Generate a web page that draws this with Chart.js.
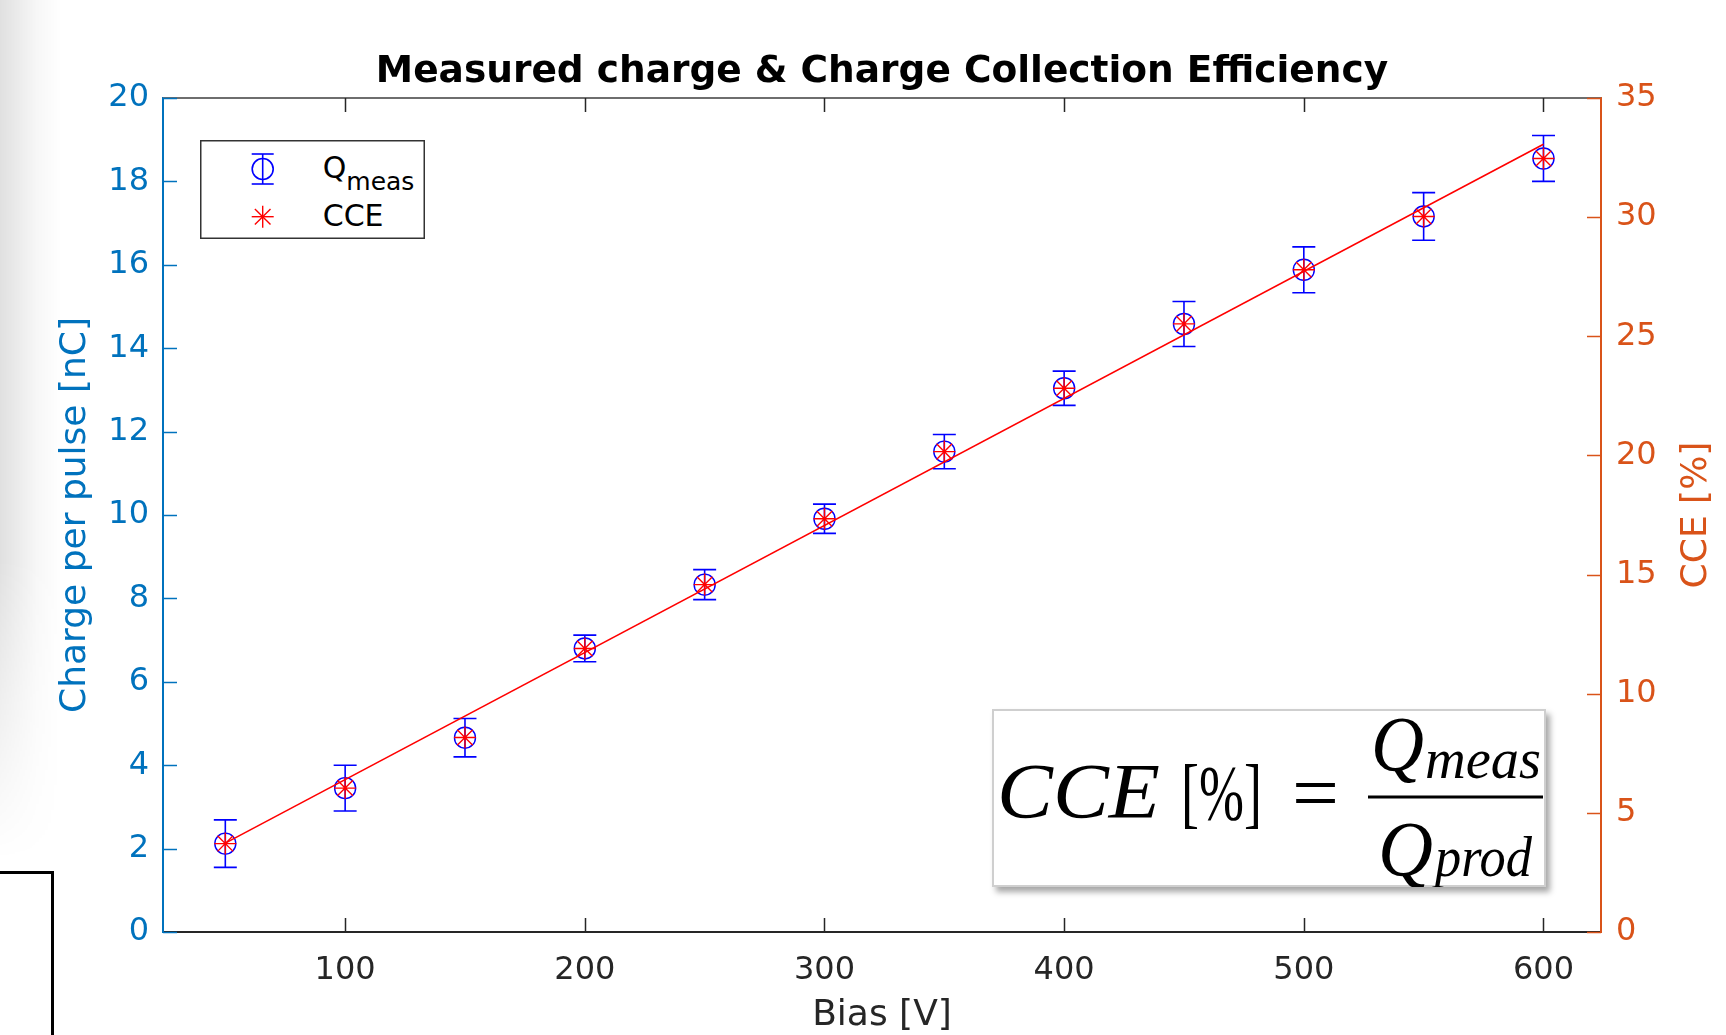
<!DOCTYPE html>
<html>
<head>
<meta charset="utf-8">
<script src="https://cdn.jsdelivr.net/npm/chart.js@4.4.1/dist/chart.umd.min.js"></script>
<style>
html,body{margin:0;padding:0;background:#fff;}
#wrap{position:relative;width:1726px;height:1035px;overflow:hidden;background:#fff;}
#c{position:absolute;left:0;top:0;}
#shade{position:absolute;left:0;top:0;width:62px;height:860px;pointer-events:none;
 background:linear-gradient(to right, rgba(0,0,0,0.12), rgba(0,0,0,0.03) 60%, rgba(0,0,0,0));
 -webkit-mask-image:linear-gradient(to bottom,#000 0%,#000 65%,transparent 100%);
 mask-image:linear-gradient(to bottom,#000 0%,#000 65%,transparent 100%);}
#corner{position:absolute;left:-3px;top:871px;width:54px;height:200px;border-top:3px solid #000;border-right:3px solid #000;}
#legend{position:absolute;left:200px;top:140px;}
#formula{position:absolute;left:992px;top:709px;width:554px;height:178px;box-shadow:4px 5px 6px rgba(0,0,0,0.35);background:#fff;}
</style>
</head>
<body>
<div id="wrap">
<canvas id="c" width="1726" height="1035"></canvas>
<div id="shade"></div>
<div id="corner"></div>
<svg id="legend" width="225" height="99" xmlns="http://www.w3.org/2000/svg">
  <rect x="0.75" y="0.75" width="223.5" height="97.5" fill="#fff" stroke="#333" stroke-width="1.5"/>
  <g stroke="#0000FF" stroke-width="1.6" fill="none">
    <line x1="62.7" y1="14" x2="62.7" y2="44"/>
    <line x1="51.7" y1="14" x2="73.7" y2="14"/>
    <line x1="51.7" y1="44" x2="73.7" y2="44"/>
    <circle cx="62.7" cy="29" r="10.5"/>
  </g>
  <g stroke="#FF0000" stroke-width="1.4">
    <line x1="51.7" y1="76.7" x2="73.7" y2="76.7"/>
    <line x1="62.7" y1="65.7" x2="62.7" y2="87.7"/>
    <line x1="54.9" y1="68.9" x2="70.5" y2="84.5"/>
    <line x1="54.9" y1="84.5" x2="70.5" y2="68.9"/>
  </g>
  <text x="122.7" y="38" font-family="DejaVu Sans" font-size="30" fill="#000">Q<tspan font-size="25" dy="12">meas</tspan></text>
  <text x="122.7" y="86" font-family="DejaVu Sans" font-size="30" fill="#000">CCE</text>
</svg>
<div id="formula">
<svg width="554" height="178" xmlns="http://www.w3.org/2000/svg">
  <rect x="1" y="1" width="552" height="176" fill="#fff" stroke="#cfcfcf" stroke-width="2"/>
  <g font-family="Liberation Serif" fill="#000">
    <text x="5" y="108" font-size="79" font-style="italic" textLength="163" lengthAdjust="spacingAndGlyphs">CCE</text>
    <text x="189" y="110" font-size="79" textLength="81" lengthAdjust="spacingAndGlyphs">[%]</text>
    <text x="300" y="110" font-size="79" textLength="47" lengthAdjust="spacingAndGlyphs">=</text>
    <text x="379" y="61" font-size="79" font-style="italic" textLength="53" lengthAdjust="spacingAndGlyphs">Q</text>
    <text x="433" y="69" font-size="57" font-style="italic" textLength="116" lengthAdjust="spacingAndGlyphs">meas</text>
    <text x="386" y="166" font-size="79" font-style="italic" textLength="55" lengthAdjust="spacingAndGlyphs">Q</text>
    <text x="443" y="167" font-size="57" font-style="italic" textLength="97" lengthAdjust="spacingAndGlyphs">prod</text>
  </g>
  <rect x="376" y="86.5" width="175" height="3" fill="#000"/>
</svg>
</div>
</div>
<script>
// ---- data ----
const bias = [50, 100, 150, 200, 250, 300, 350, 400, 450, 500, 550, 600];
const qMeas = [2.12, 3.45, 4.66, 6.80, 8.33, 9.91, 11.52, 13.04, 14.58, 15.88, 17.16, 18.55];
const qErr = [0.57, 0.55, 0.46, 0.32, 0.36, 0.35, 0.41, 0.41, 0.54, 0.55, 0.57, 0.55];
const cce = [3.71, 6.04, 8.16, 11.90, 14.58, 17.34, 20.16, 22.82, 25.52, 27.79, 30.03, 32.46];
const fitX = [50, 600];
const fitY = [3.73, 33.06];
const xTicks = [100, 200, 300, 400, 500, 600];
const yTicks = [0, 2, 4, 6, 8, 10, 12, 14, 16, 18, 20];
const y1Ticks = [0, 5, 10, 15, 20, 25, 30, 35];
const titleText = 'Measured charge & Charge Collection Efficiency';
const xTitle = 'Bias [V]';
const yTitle = 'Charge per pulse [nC]';
const y1Title = 'CCE [%]';

const BLUE_AX = '#0072BD', ORANGE_AX = '#D95319', DARK = '#262626';
const FONT = 'DejaVu Sans';

const errorBars = {
  id: 'errorBars',
  afterDatasetDraw(chart, args) {
    if (args.index !== 0) return;
    const {ctx, scales: {x, y}} = chart;
    ctx.save();
    ctx.strokeStyle = '#0000FF';
    ctx.lineWidth = 1.6;
    bias.forEach((b, i) => {
      const px = x.getPixelForValue(b);
      const pt = y.getPixelForValue(qMeas[i] + qErr[i]);
      const pb = y.getPixelForValue(qMeas[i] - qErr[i]);
      ctx.beginPath();
      ctx.moveTo(px, pt); ctx.lineTo(px, pb);
      ctx.moveTo(px - 11.5, pt); ctx.lineTo(px + 11.5, pt);
      ctx.moveTo(px - 11.5, pb); ctx.lineTo(px + 11.5, pb);
      ctx.stroke();
    });
    ctx.restore();
  }
};

const decor = {
  id: 'decor',
  afterDraw(chart) {
    const {ctx, chartArea: {left, right, top, bottom}, scales: {x, y, y1}} = chart;
    const TL = 14;
    ctx.save();
    ctx.strokeStyle = '#6e6e6e';
    ctx.lineWidth = 2;
    ctx.beginPath(); ctx.moveTo(left, top); ctx.lineTo(right, top); ctx.stroke();
    ctx.strokeStyle = DARK; ctx.lineWidth = 1.5;
    xTicks.forEach(v => {
      const px = Math.round(x.getPixelForValue(v)) + 0.5;
      ctx.beginPath();
      ctx.moveTo(px, bottom); ctx.lineTo(px, bottom - TL);
      ctx.moveTo(px, top); ctx.lineTo(px, top + TL);
      ctx.stroke();
    });
    ctx.strokeStyle = BLUE_AX;
    yTicks.forEach(v => {
      const py = Math.round(y.getPixelForValue(v)) + 0.5;
      ctx.beginPath(); ctx.moveTo(left, py); ctx.lineTo(left + TL, py); ctx.stroke();
    });
    ctx.strokeStyle = ORANGE_AX;
    y1Ticks.forEach(v => {
      const py = Math.round(y1.getPixelForValue(v)) + 0.5;
      ctx.beginPath(); ctx.moveTo(right, py); ctx.lineTo(right - TL, py); ctx.stroke();
    });
    ctx.translate(1697, (top + bottom) / 2);
    ctx.rotate(-Math.PI / 2);
    ctx.fillStyle = ORANGE_AX;
    ctx.font = '36px "' + FONT + '"';
    ctx.textAlign = 'center';
    ctx.textBaseline = 'middle';
    ctx.fillText(y1Title, 0, 0);
    ctx.restore();
  }
};

new Chart(document.getElementById('c'), {
  type: 'scatter',
  data: {
    datasets: [
      {
        label: 'Qmeas',
        data: bias.map((b, i) => ({x: b, y: qMeas[i]})),
        yAxisID: 'y',
        pointStyle: 'circle',
        pointRadius: 10.5,
        pointBorderWidth: 1.4,
        borderColor: '#0000FF',
        backgroundColor: 'rgba(0,0,0,0)',
        order: 3
      },
      {
        label: 'CCE',
        data: bias.map((b, i) => ({x: b, y: cce[i]})),
        yAxisID: 'y1',
        pointStyle: 'star',
        pointRadius: 11,
        pointBorderWidth: 1.4,
        borderColor: '#FF0000',
        backgroundColor: '#FF0000',
        order: 1
      },
      {
        label: 'fit',
        data: fitX.map((v, i) => ({x: v, y: fitY[i]})),
        yAxisID: 'y1',
        showLine: true,
        pointRadius: 0,
        borderColor: '#FF0000',
        borderWidth: 1.6,
        order: 2
      }
    ]
  },
  options: {
    responsive: false,
    animation: false,
    devicePixelRatio: 1,
    layout: {padding: 0},
    plugins: {
      legend: {display: false},
      tooltip: {enabled: false},
      title: {
        display: true,
        text: titleText,
        fullSize: false,
        color: '#000',
        font: {family: FONT, size: 37.5, weight: 'bold', lineHeight: 1.2},
        padding: {top: 50, bottom: 3}
      }
    },
    scales: {
      x: {
        type: 'linear',
        position: 'bottom',
        min: 24, max: 624,
        afterBuildTicks: s => { s.ticks = xTicks.map(v => ({value: v})); },
        afterFit: s => { s.height = 103; },
        grid: {display: false, drawTicks: false, tickLength: 0},
        border: {display: true, color: DARK, width: 2},
        ticks: {color: DARK, font: {family: FONT, size: 32}, padding: 19, maxRotation: 0},
        title: {display: true, text: xTitle, color: DARK, font: {family: FONT, size: 36, lineHeight: 1.1}, padding: {top: 0, bottom: 0}}
      },
      y: {
        type: 'linear',
        position: 'left',
        min: 0, max: 20,
        afterBuildTicks: s => { s.ticks = yTicks.map(v => ({value: v})); },
        afterFit: s => { s.width = 163; },
        grid: {display: false, drawTicks: false, tickLength: 0},
        border: {display: true, color: BLUE_AX, width: 2},
        ticks: {color: BLUE_AX, font: {family: FONT, size: 32}, padding: 14},
        title: {display: true, text: yTitle, color: BLUE_AX, font: {family: FONT, size: 36, lineHeight: 1.2}, padding: {top: 54, bottom: 0}}
      },
      y1: {
        type: 'linear',
        position: 'right',
        min: 0, max: 35,
        afterBuildTicks: s => { s.ticks = y1Ticks.map(v => ({value: v})); },
        afterFit: s => { s.width = 125; },
        grid: {display: false, drawTicks: false, tickLength: 0},
        border: {display: true, color: ORANGE_AX, width: 2},
        ticks: {color: ORANGE_AX, font: {family: FONT, size: 32}, padding: 15}
      }
    }
  },
  plugins: [errorBars, decor]
});
</script>
</body>
</html>
